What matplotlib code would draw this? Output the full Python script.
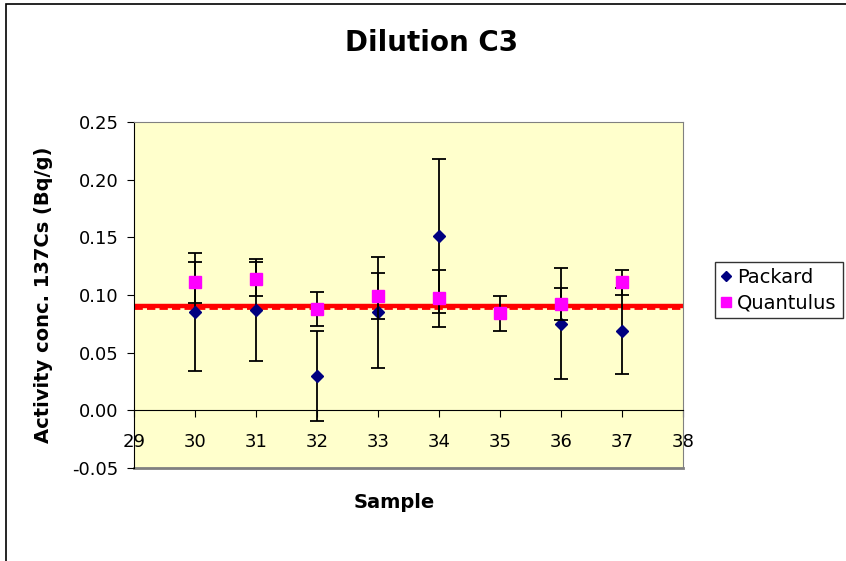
import matplotlib
matplotlib.use("Agg")
import matplotlib.pyplot as plt
from matplotlib.patches import Rectangle
from matplotlib.lines import Line2D
import numpy as np

# data
samples = [30, 31, 32, 33, 34, 35, 36, 37]
packard = [0.085, 0.087, 0.030, 0.085, 0.151, np.nan, 0.075, 0.069]
packard_err = [0.051, 0.044, 0.039, 0.048, 0.067, np.nan, 0.048, 0.0375]
quantulus = [0.111, 0.114, 0.088, 0.099, 0.097, 0.084, 0.092, 0.111]
quantulus_err = [0.018, 0.015, 0.015, 0.020, 0.025, 0.015, 0.014, 0.011]
ref_solid = 0.0905
ref_dashed = 0.0887

y_ticks = [-0.05, 0.00, 0.05, 0.10, 0.15, 0.20, 0.25]
y_tick_labels = ["-0.05", "0.00", "0.05", "0.10", "0.15", "0.20", "0.25"]
x_ticks = list(range(29, 39))

plt.rcParams['font.family'] = ['DejaVu Sans']

fig = plt.figure(figsize=(8.46, 5.61), dpi=100)
ax = fig.add_axes([134 / 846, 1 - 468 / 561, 549 / 846, 346 / 561])
ax.set_facecolor("#FFFFCC")

# outer chart border (left and top visible)
fig.patches.append(Rectangle((6 / 846, -0.1), 2.0, 1.1 - 4 / 561, transform=fig.transFigure,
                             fill=False, edgecolor="black", linewidth=1.2, clip_on=False))

ax.axhline(ref_solid, color="red", linewidth=3.2, zorder=2)
ax.axhline(ref_dashed, color="red", linewidth=2, linestyle=(0, (3, 1.5)), zorder=2)

ax.errorbar(samples, packard, yerr=packard_err, fmt="D", color="#000080", markersize=6.5,
            ecolor="black", elinewidth=1.3, capsize=5, capthick=1.3, zorder=3)
ax.errorbar(samples, quantulus, yerr=quantulus_err, fmt="s", color="#FF00FF", markersize=8,
            ecolor="black", elinewidth=1.3, capsize=5, capthick=1.3, zorder=4)

ax.set_xlim(29, 38)
ax.set_ylim(-0.05, 0.25)

ax.spines["bottom"].set_position(("data", 0))
ax.spines["bottom"].set_color("black")
ax.spines["left"].set_color("black")
ax.spines["top"].set_color("#808080")
ax.spines["right"].set_color("#808080")
ax.axhline(-0.05, color="#808080", linewidth=2, clip_on=False, zorder=1)

ax.set_xticks(x_ticks)
ax.set_xticklabels([str(v) for v in x_ticks])
ax.set_yticks(y_ticks)
ax.set_yticklabels(y_tick_labels)
ax.tick_params(axis="x", direction="out", length=5, pad=11, labelsize=13)
ax.tick_params(axis="y", direction="out", length=5, pad=6, labelsize=13)

ax.set_ylabel("Activity conc. 137Cs (Bq/g)", fontsize=14, fontweight="bold")
ax.yaxis.set_label_coords(-0.148, 0.5)
fig.text(394 / 846, 1 - 503 / 561, "Sample", fontsize=14, fontweight="bold", ha="center", va="center")
fig.text(432 / 846, 1 - 43 / 561, "Dilution C3", fontsize=20, fontweight="bold", ha="center", va="center")

handles = [
    Line2D([], [], linestyle="none", marker="D", color="#000080", markersize=5.5),
    Line2D([], [], linestyle="none", marker="s", color="#FF00FF", markersize=7),
]
leg = ax.legend(handles, ["Packard", "Quantulus"], loc="upper left",
                bbox_to_anchor=(1.058, (468 - 262) / 346), frameon=True, fancybox=False,
                fontsize=14, handlelength=0.5, handletextpad=0.35, borderpad=0.3,
                labelspacing=0.35, borderaxespad=0)
leg.get_frame().set_edgecolor("black")
leg.get_frame().set_linewidth(1)

fig.savefig("out.png", dpi=100)
